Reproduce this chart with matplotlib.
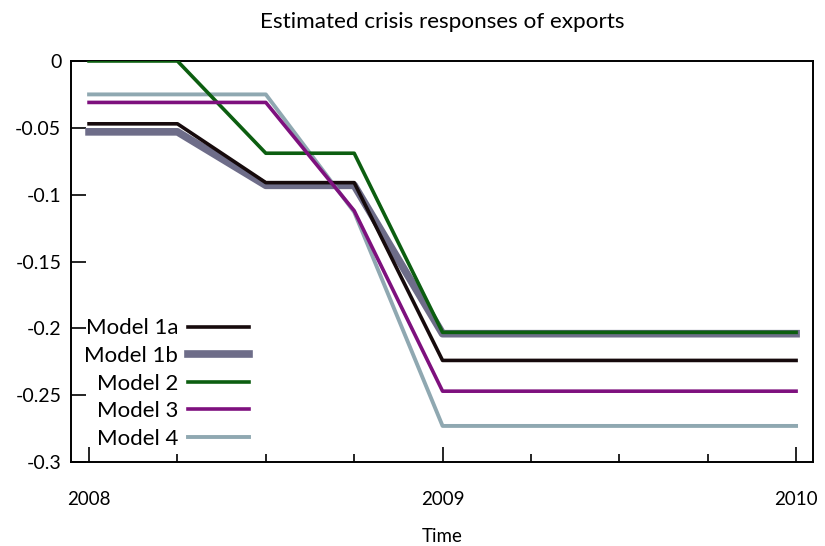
import matplotlib
matplotlib.use('Agg')
import matplotlib.pyplot as plt
from matplotlib.ticker import FixedLocator, MultipleLocator

# quarterly horizon, 2008Q1 .. 2010Q1
quarters = [2008.0, 2008.25, 2008.5, 2008.75, 2009.0, 2009.25, 2009.5, 2009.75, 2010.0]

model_1a = [-0.047, -0.047, -0.091, -0.091, -0.224, -0.224, -0.224, -0.224, -0.224]
model_1b = [-0.053, -0.053, -0.093, -0.093, -0.204, -0.204, -0.204, -0.204, -0.204]
model_2 = [0.0, 0.0, -0.069, -0.069, -0.203, -0.203, -0.203, -0.203, -0.203]
model_3 = [-0.031, -0.031, -0.031, -0.112, -0.247, -0.247, -0.247, -0.247, -0.247]
model_4 = [-0.025, -0.025, -0.025, -0.113, -0.273, -0.273, -0.273, -0.273, -0.273]

yticks = [0, -0.05, -0.1, -0.15, -0.2, -0.25, -0.3]
ytick_labels = ['0', '-0.05', '-0.1', '-0.15', '-0.2', '-0.25', '-0.3']
xticks = [2008, 2009, 2010]
xtick_labels = ['2008', '2009', '2010']

plt.rcParams['font.family'] = ['Lato', 'DejaVu Sans']
plt.rcParams['font.size'] = 13.5

fig = plt.figure(figsize=(8.25, 5.46), dpi=100)
ax = fig.add_axes([0.0861, 0.1538, 0.8994, 0.7345])

ax.plot(quarters, model_1a, color='#160a0c', lw=2.6, label='Model 1a', zorder=4)
ax.plot(quarters, model_1b, color='#6e6d89', lw=5.5, label='Model 1b', zorder=2)
ax.plot(quarters, model_2, color='#0c5e10', lw=2.6, label='Model 2', zorder=4)
ax.plot(quarters, model_3, color='#7e107e', lw=2.6, label='Model 3', zorder=4)
ax.plot(quarters, model_4, color='#8fa8b1', lw=2.8, label='Model 4', zorder=3)

ax.set_xlim(2007.949, 2010.048)
ax.set_ylim(-0.3, 0)

ax.xaxis.set_major_locator(FixedLocator(xticks))
ax.set_xticklabels(xtick_labels)
ax.xaxis.set_minor_locator(MultipleLocator(0.25))
ax.yaxis.set_major_locator(FixedLocator(yticks))
ax.set_yticklabels(ytick_labels, fontsize=14)

ax.tick_params(axis='x', which='major', direction='in', length=11, width=1.2, pad=21)
ax.tick_params(axis='x', which='minor', direction='in', length=6, width=1.2)
ax.tick_params(axis='y', which='major', direction='in', length=11, width=1.2, pad=7)
ax.tick_params(top=False, right=False)
for s in ax.spines.values():
    s.set_linewidth(1.4)

ax.set_xlabel('Time', labelpad=14)
ax.set_title('Estimated crisis responses of exports', pad=24)

# labels on the left, samples on the right (labels end up right-aligned)
ax.legend(loc='lower left', frameon=False, fontsize=16,
          markerfirst=False, handlelength=2.75, handletextpad=0.45,
          labelspacing=0.34, borderaxespad=0.3, borderpad=0.3)

fig.savefig('out.png', dpi=100)
